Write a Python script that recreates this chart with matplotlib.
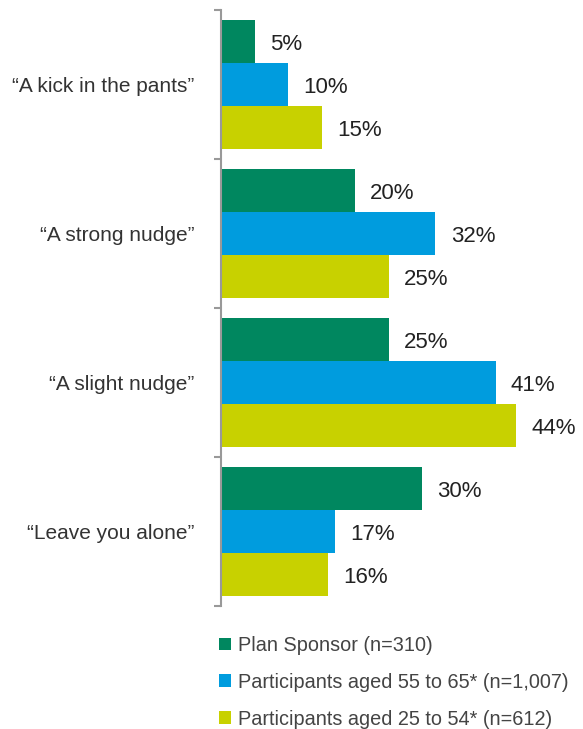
import numpy as np
import matplotlib.pyplot as plt

plt.rcParams['font.family'] = ['Liberation Sans', 'DejaVu Sans']

categories = ['\u201cA kick in the pants\u201d', '\u201cA strong nudge\u201d',
              '\u201cA slight nudge\u201d', '\u201cLeave you alone\u201d']
series_names = ['Plan Sponsor (n=310)',
                'Participants aged 55 to 65* (n=1,007)',
                'Participants aged 25 to 54* (n=612)']
plan_sponsor = [5, 20, 25, 30]
aged_55_65 = [10, 32, 41, 17]
aged_25_54 = [15, 25, 44, 16]
colors = ['#00875F', '#009CDE', '#C8D100']

fig = plt.figure(figsize=(5.83, 7.29), dpi=100)
ax = fig.add_axes([221 / 583, 1 - 606 / 729, 335 / 583, 596 / 729])

y = np.arange(len(categories))
h = 0.29
series = [plan_sponsor, aged_55_65, aged_25_54]
for k, (vals, col, name) in enumerate(zip(series, colors, series_names)):
    pos = y + (k - 1) * h
    ax.barh(pos, vals, height=h, color=col, label=name, edgecolor='none')
    for p, v in zip(pos, vals):
        ax.annotate(f'{v}%', (v, p), xytext=(11, -2), textcoords='offset points',
                    ha='left', va='center', fontsize=16, color='#222222')

ax.set_xlim(0, 50)
ax.set_ylim(3.5, -0.5)
for s in ['top', 'right', 'bottom']:
    ax.spines[s].set_visible(False)
ax.spines['left'].set_color('#999999')
ax.spines['left'].set_linewidth(1.5)
ax.set_xticks([])
ax.set_yticks(y)
ax.set_yticklabels(categories, fontsize=15, color='#333333')
ax.tick_params(axis='y', which='major', length=0, pad=19)
ax.set_yticks(np.arange(-0.5, 4.0, 1.0), minor=True)
ax.tick_params(axis='y', which='minor', length=5, width=1.5, color='#999999')

fig.legend(loc='upper left', bbox_to_anchor=(219 / 583, 1 - 636 / 729),
           frameon=False, fontsize=14.3, handlelength=0.62, handleheight=0.62,
           handletextpad=0.35, labelspacing=0.9, borderaxespad=0, borderpad=0,
           labelcolor='#444444')

fig.savefig('out.png', dpi=100)
